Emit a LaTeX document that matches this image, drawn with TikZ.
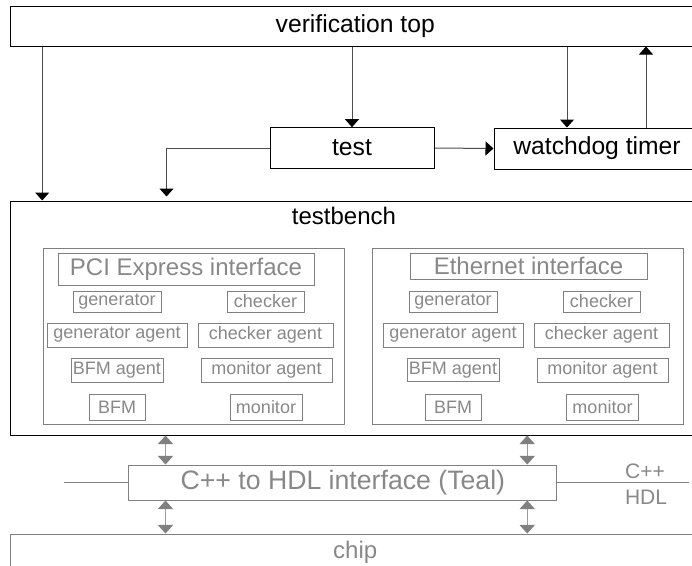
\documentclass[tikz,border=0pt]{standalone}
\usepackage{fontspec}
\setmainfont{Liberation Sans}
\usetikzlibrary{arrows.meta}
\definecolor{boxgray}{RGB}{128,128,128}
\definecolor{txtgray}{RGB}{136,136,136}
\definecolor{shaftgray}{RGB}{155,155,155}
\tikzset{
  blkbox/.style={draw=black, line width=0.75pt, inner sep=0pt, font=\fontsize{18.5}{22}\selectfont},
  gryframe/.style={draw=boxgray, line width=0.75pt, inner sep=0pt},
  grybox/.style={draw=boxgray, line width=0.75pt, inner sep=0pt, text=txtgray, font=\fontsize{13.5}{16}\selectfont},
  grytitle/.style={grybox, font=\fontsize{18}{21}\selectfont},
  blkarrow/.style={draw=black!70, line width=0.75pt, -{Triangle[width=10.5pt,length=6pt,color=black]}},
  gryarrow/.style={draw=shaftgray, line width=0.9pt, {Triangle[width=11.5pt,length=6.5pt,color=boxgray]}-{Triangle[width=11.5pt,length=6.5pt,color=boxgray]}},
  gryline/.style={draw=boxgray, line width=0.75pt},
}
\begin{document}
\begin{tikzpicture}[x=0.75pt,y=0.75pt,yscale=-1,xscale=1]
\useasboundingbox (0,0) rectangle (692,565);
\clip (0,0) rectangle (692,565);

%Shape: Rectangle [verification top]
\node[blkbox, minimum width=517.1pt, minimum height=30pt] (vt) at (355.25,26) {verification top};
%Shape: Rectangle [test]
\node[blkbox, minimum width=123pt, minimum height=30.5pt] (test) at (352,148) {test};
%Shape: Rectangle [watchdog]
\node[blkbox, minimum width=154.5pt, minimum height=30.75pt] (wd) at (597,148.5) {watchdog timer};
%Shape: Rectangle [testbench]
\node[blkbox, minimum width=517.1pt, minimum height=175.5pt] (tb) at (355.25,318) {};
% Text Node
\node[font=\fontsize{18}{21}\selectfont, inner sep=0pt] (tblabel) at (344,216) {testbench};

%Shape: Rectangle [PCI Express side]
\node[gryframe, minimum width=225.75pt, minimum height=132pt] (pci) at (193.5,336) {};
\node[grytitle, minimum width=192pt, minimum height=24pt] (pcititle) at (186,269) {PCI Express interface};
\node[grybox, minimum width=66pt, minimum height=15.75pt] (pgen) at (117,301.5) {generator};
\node[grybox, minimum width=57.75pt, minimum height=15.75pt] (pchk) at (265.5,301.5) {checker};
\node[grybox, minimum width=105pt, minimum height=18pt] (pgenag) at (117,335) {generator agent};
\node[grybox, minimum width=101.25pt, minimum height=18pt] (pchkag) at (265.5,335) {checker agent};
\node[grybox, minimum width=69pt, minimum height=17.6pt] (pbfmag) at (117,370.5) {BFM agent};
\node[grybox, minimum width=98.25pt, minimum height=18pt] (pmonag) at (266.5,370) {monitor agent};
\node[grybox, minimum width=42pt, minimum height=19.5pt] (pbfm) at (117,407) {BFM};
\node[grybox, minimum width=54pt, minimum height=19.5pt] (pmon) at (266,407) {monitor};

%Shape: Rectangle [Ethernet side]
\node[gryframe, minimum width=233.25pt, minimum height=132pt] (eth) at (527.5,336) {};
\node[grytitle, minimum width=177.75pt, minimum height=19.5pt] (ethtitle) at (528.5,266) {Ethernet interface};
\node[grybox, minimum width=66pt, minimum height=15.75pt] (egen) at (453,301.5) {generator};
\node[grybox, minimum width=57.75pt, minimum height=15.75pt] (echk) at (601.5,301.5) {checker};
\node[grybox, minimum width=105pt, minimum height=18pt] (egenag) at (453,335) {generator agent};
\node[grybox, minimum width=101.25pt, minimum height=18pt] (echkag) at (601.5,335) {checker agent};
\node[grybox, minimum width=69pt, minimum height=17.6pt] (ebfmag) at (453,370) {BFM agent};
\node[grybox, minimum width=98.25pt, minimum height=18pt] (emonag) at (602.5,370) {monitor agent};
\node[grybox, minimum width=42pt, minimum height=19.5pt] (ebfm) at (453,407) {BFM};
\node[grybox, minimum width=54pt, minimum height=19.5pt] (emon) at (602.5,407) {monitor};

%Shape: Rectangle [Teal]
\node[grybox, font=\fontsize{20}{24}\selectfont, minimum width=320.8pt, minimum height=26.25pt] (teal) at (342.85,482.5) {C++ to HDL interface (Teal)};
%Shape: Rectangle [chip]
\node[gryframe, text=txtgray, font=\fontsize{18}{21}\selectfont, minimum width=517.1pt, minimum height=27pt] (chip) at (355.25,552) {chip};
% Text Node
\node[text=txtgray, font=\fontsize{15.75}{18}\selectfont, inner sep=0pt] (cpp) at (645,471) {C++};
% Text Node
\node[text=txtgray, font=\fontsize{15.75}{18}\selectfont, inner sep=0pt] (hdl) at (646,497.5) {HDL};

%Straight Lines [top arrows]
\draw[blkarrow] ([xshift=24.15pt]vt.south west) -- ([xshift=24.15pt]tb.north west);
\draw[blkarrow] (vt.south -| test.north) -- (test.north);
\coordinate (wdin) at ([xshift=-22.5pt]wd.north);
\coordinate (wdout) at ([xshift=36.75pt]wd.north);
\draw[blkarrow] (vt.south -| wdin) -- (wdin);
\draw[blkarrow] (wdout) -- (wdout |- vt.south);
\draw[blkarrow] (test.east) -- (wd.west);
\draw[blkarrow, shorten >=3pt] (test.west) -| ([xshift=117.4pt]tb.north west);

%Straight Lines [Teal arrows]
\coordinate (tealL) at ([xshift=27.75pt]teal.north west);
\coordinate (tealR) at ([xshift=-22.5pt]teal.north east);
\draw[gryarrow] (tealL |- tb.south) -- (tealL);
\draw[gryarrow] (tealR |- tb.south) -- (tealR);
\draw[gryarrow] (tealL |- teal.south) -- (tealL |- chip.north);
\draw[gryarrow] (tealR |- teal.south) -- (tealR |- chip.north);

%Straight Lines [C++ / HDL border]
\coordinate (sideL) at (64,482.5);
\coordinate (sideR) at (689,482.5);
\draw[gryline] (sideL) -- (teal.west);
\draw[gryline] (teal.east) -- (sideR);

\end{tikzpicture}
\end{document}
